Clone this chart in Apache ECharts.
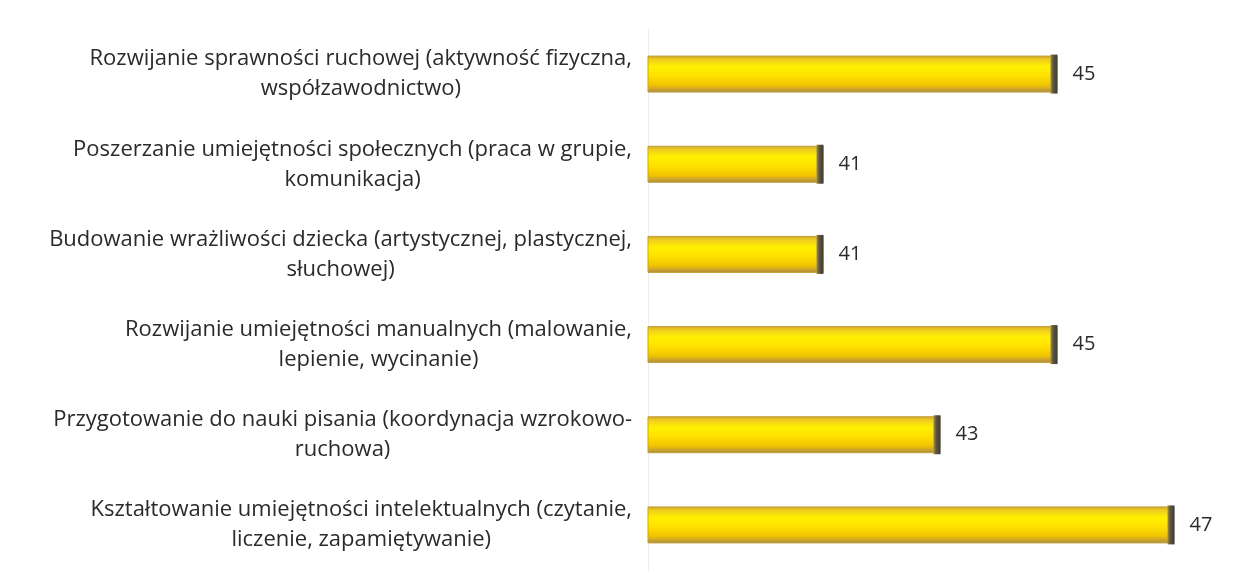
<!DOCTYPE html>
<html lang="pl">
<head>
    <meta charset="UTF-8">
    <title>Wykres</title>
    <script src="https://cdn.jsdelivr.net/npm/echarts@6/dist/echarts.min.js"></script>
    <style>
        html, body { margin: 0; padding: 0; background: #fff; }
    </style>
</head>
<body>
    <div id="chart" style="width:1253px;height:584px;"></div>
    <script>
        // kategorie (od góry do dołu)
        var categories = [
            'Rozwijanie sprawności ruchowej (aktywność fizyczna,\nwspółzawodnictwo)',
            'Poszerzanie umiejętności społecznych (praca w grupie,\nkomunikacja)',
            'Budowanie wrażliwości dziecka (artystycznej, plastycznej,\nsłuchowej)',
            'Rozwijanie umiejętności manualnych (malowanie,\nlepienie, wycinanie)',
            'Przygotowanie do nauki pisania (koordynacja wzrokowo-\nruchowa)',
            'Kształtowanie umiejętności intelektualnych (czytanie,\nliczenie, zapamiętywanie)'
        ];
        var values = [45, 41, 41, 45, 43, 47];

        var font = '"Open Sans", "Noto Sans", sans-serif';

        var chart = echarts.init(document.getElementById('chart'));

        // zolty "walec" - gradient pionowy
        var barFill = new echarts.graphic.LinearGradient(0, 0, 0, 1, [
            { offset: 0, color: '#c9a227' },
            { offset: 0.1, color: '#f0cc20' },
            { offset: 0.3, color: '#fff000' },
            { offset: 0.55, color: '#ffe000' },
            { offset: 0.8, color: '#f0c400' },
            { offset: 0.92, color: '#c8a030' },
            { offset: 1, color: '#a88a3a' }
        ]);
        // ciemna "podstawa" walca na koncu
        var capFill = new echarts.graphic.LinearGradient(0, 0, 1, 0, [
            { offset: 0, color: '#b09020' },
            { offset: 0.4, color: '#5a5640' },
            { offset: 1, color: '#3c3c34' }
        ]);

        var option = {
            backgroundColor: '#ffffff',
            animation: false,
            grid: {
                left: 648,
                right: 20,
                top: 29,
                bottom: 14
            },
            xAxis: {
                type: 'value',
                min: 38,
                max: 48,
                show: false
            },
            yAxis: {
                type: 'category',
                data: categories,
                inverse: true,
                axisLine: { show: true, lineStyle: { color: '#ececec', width: 1 } },
                axisTick: { show: false },
                axisLabel: {
                    margin: 16,
                    formatter: function (v) {
                        return v.split('\n').map(function (s) { return '{c|' + s + '}'; }).join('\n');
                    },
                    rich: {
                        c: {
                            align: 'center',
                            fontFamily: font,
                            fontSize: 22,
                            fontWeight: 500,
                            lineHeight: 30,
                            color: '#2a2a2a'
                        }
                    }
                }
            },
            series: [
                {
                    type: 'bar',
                    data: values,
                    barWidth: 37,
                    itemStyle: {
                        color: barFill,
                        borderColor: '#c0a040',
                        borderWidth: 1
                    },
                    label: {
                        show: true,
                        position: 'right',
                        distance: 15,
                        fontFamily: font,
                        fontSize: 20,
                        color: '#2a2a2a'
                    }
                },
                {
                    // ciemne zakonczenie slupka
                    type: 'pictorialBar',
                    data: values,
                    symbol: 'rect',
                    symbolSize: [7, 39],
                    symbolPosition: 'end',
                    symbolOffset: [0, 0],
                    barGap: '-100%',
                    z: 3,
                    itemStyle: { color: capFill }
                }
            ]
        };

        chart.setOption(option);
    </script>
</body>
</html>
